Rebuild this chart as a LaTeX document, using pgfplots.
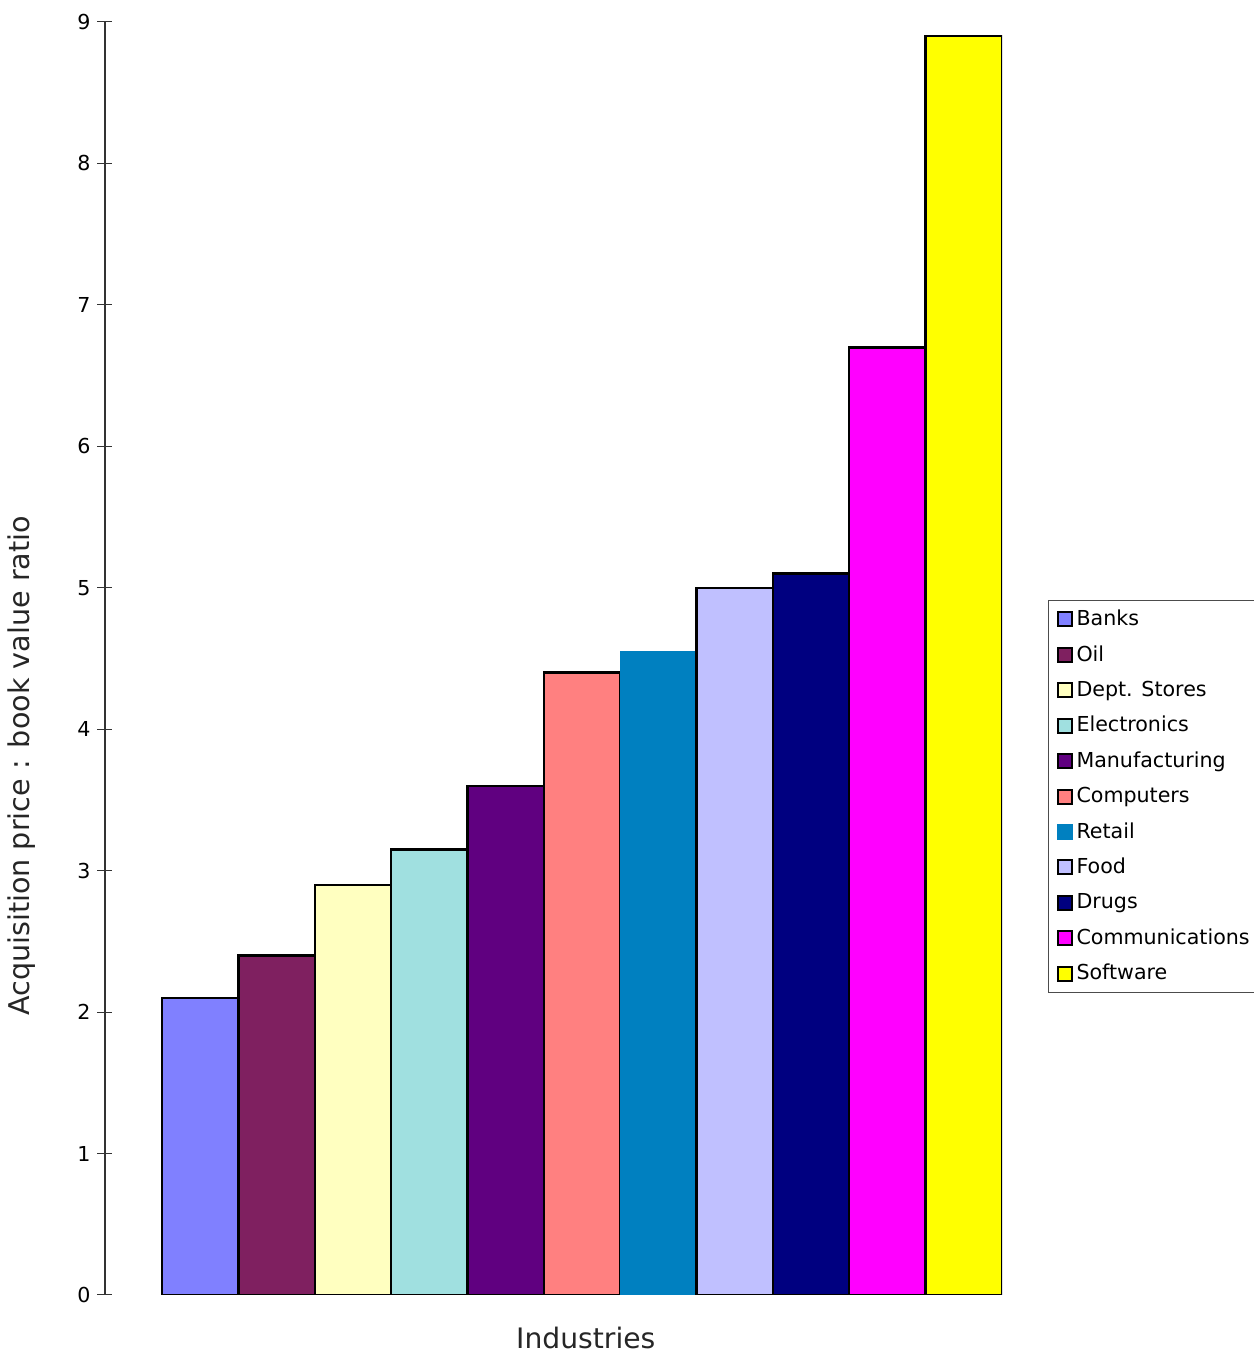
\documentclass[border=0pt]{standalone}
\usepackage{pgfplots}
\pgfplotsset{compat=1.18}
\usepackage{fontspec}
\setmainfont{DejaVu Sans}

\definecolor{cBanks}{HTML}{8080FF}
\definecolor{cOil}{HTML}{7F2060}
\definecolor{cDept}{HTML}{FFFFC0}
\definecolor{cElec}{HTML}{A0E0E0}
\definecolor{cManu}{HTML}{600080}
\definecolor{cComp}{HTML}{FF8080}
\definecolor{cRetail}{HTML}{0080C0}
\definecolor{cFood}{HTML}{C0C0FF}
\definecolor{cDrugs}{HTML}{000080}
\definecolor{cComm}{HTML}{FF00FF}
\definecolor{cSoft}{HTML}{FFFF00}

\pgfplotsset{bx/.style={ybar, bar shift=0pt, draw=black, line width=1.2pt}}

\begin{document}
\begin{tikzpicture}
\begin{axis}[
  at={(0,0)}, anchor=south west,
  scale only axis, width=448.5pt, height=636.5pt,
  xmin=-1.246, xmax=10.5, ymin=0, ymax=9,
  axis x line*=bottom, x axis line style={draw=none}, xtick=\empty,
  axis y line*=left,
  ytick={0,1,...,9},
  tick align=center, major tick length=7.5pt,
  tick style={black!80, line width=0.5pt},
  y axis line style={black!80, line width=0.6pt},
  /pgf/number format/assume math mode=true,
  yticklabel style={font=\fontsize{10.3}{12}\selectfont},
  ylabel={Acquisition price : book value ratio},
  ylabel style={at={(axis description cs:-0.0925,0.4156)}, anchor=center, rotate=0,
    font=\fontsize{14.3}{16}\selectfont, text=black!85},
  xlabel={Industries},
  xlabel style={at={(axis description cs:0.536,-0.0418)}, anchor=base,
    font=\fontsize{14.1}{16}\selectfont, text=black!85},
  bar width=1,
  legend style={at={(axis description cs:1.0513,0.546)}, anchor=north west,
    draw=black!70, line width=0.5pt, font=\fontsize{10.3}{12}\selectfont,
    inner xsep=4pt, inner ysep=4.3pt, row sep=7.45pt,
    nodes={inner ysep=0.5pt, inner xsep=2pt, anchor=west}},
  legend cell align=left,
  legend image code/.code={\draw[#1, line width=1pt] (0pt,-3.5pt) rectangle (7pt,3.5pt);},
]
\addplot[bx, fill=cBanks]   coordinates {(0,2.1)};  \addlegendentry{Banks}
\addplot[bx, fill=cOil]     coordinates {(1,2.4)};  \addlegendentry{Oil}
\addplot[bx, fill=cDept]    coordinates {(2,2.9)};  \addlegendentry{Dept. Stores}
\addplot[bx, fill=cElec]    coordinates {(3,3.15)}; \addlegendentry{Electronics}
\addplot[bx, fill=cManu]    coordinates {(4,3.6)};  \addlegendentry{Manufacturing}
\addplot[bx, fill=cComp]    coordinates {(5,4.4)};  \addlegendentry{Computers}
\addplot[bx, fill=cRetail, draw=cRetail, line width=0.01pt] coordinates {(6,4.55)}; \addlegendentry{Retail}
\addplot[bx, fill=cFood]    coordinates {(7,5.0)};  \addlegendentry{Food}
\addplot[bx, fill=cDrugs]   coordinates {(8,5.1)};  \addlegendentry{Drugs}
\addplot[bx, fill=cComm]    coordinates {(9,6.7)};  \addlegendentry{Communications}
\addplot[bx, fill=cSoft]    coordinates {(10,8.9)}; \addlegendentry{Software}
\end{axis}
\pgfresetboundingbox
\useasboundingbox (-52.5pt,-29pt) rectangle (574pt,647.5pt);
\end{tikzpicture}
\end{document}
